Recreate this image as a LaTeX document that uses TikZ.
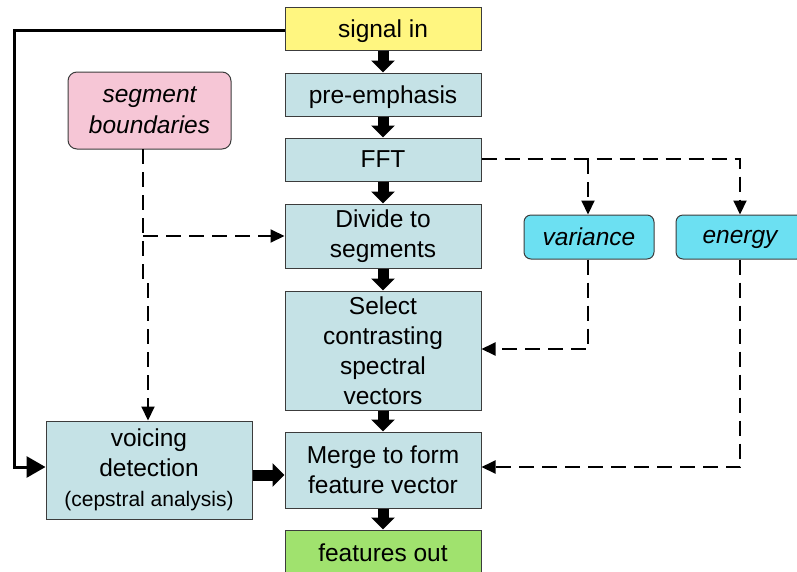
\documentclass[tikz,border=0pt]{standalone}
\usepackage{fontspec}
\setmainfont{Liberation Sans}
\usetikzlibrary{arrows.meta}
\definecolor{cyel}{RGB}{255,246,128}
\definecolor{cblu}{RGB}{197,226,230}
\definecolor{cpnk}{RGB}{246,198,214}
\definecolor{ccyn}{RGB}{108,224,242}
\definecolor{cgrn}{RGB}{160,226,110}
\definecolor{cbrd}{RGB}{60,60,60}
\tikzset{
  box/.style={draw=cbrd, line width=1pt, fill=cblu, inner sep=0pt, align=center,
    font=\fontsize{24.5}{30}\selectfont},
  rbox/.style={box, rounded corners=9pt},
  blockarrow/.style={line width=11pt, -{Triangle[width=23pt,length=12pt]}},
  dashline/.style={line width=2pt, dash pattern=on 15pt off 8pt, -{Triangle[width=13pt,length=14pt]}},
  dashplain/.style={line width=2pt, dash pattern=on 15pt off 8pt},
  sigline/.style={line width=3pt, -{Triangle[width=21pt,length=19pt]}}
}
\begin{document}
\begin{tikzpicture}[x=1pt,y=-1pt]
\useasboundingbox (0,0) rectangle (797,571);
\begin{scope}
\clip (0,0) rectangle (797,571);
\node[box, fill=cyel, minimum width=196pt, minimum height=43pt, text depth=0pt] (sig) at (383,28.5) {signal in};
\node[box, minimum width=196pt, minimum height=43pt, text depth=0pt] (pre) at (383,94.5) {pre-emphasis};
\node[box, minimum width=196pt, minimum height=43pt] (fft) at (383,159.5) {FFT};
\node[box, minimum width=196pt, minimum height=64pt] (div) at (383,236) {Divide to\\segments};
\node[box, minimum width=196pt, minimum height=119pt] (sel) at (383,350.5) {Select\\contrasting\\spectral\\vectors};
\node[box, minimum width=196pt, minimum height=76pt] (mrg) at (383,470) {Merge to form\\feature vector};
\node[box, fill=cgrn, minimum width=196pt, minimum height=52pt] (out) at (383,556) {};
\node[font=\fontsize{24.5}{30}\selectfont] (outt) at (383,553) {features out};
\node[box, minimum width=206pt, minimum height=98pt] (voi) at (149,470) {voicing\\detection\\{\fontsize{21}{25}\selectfont (cepstral analysis)}};
\node[rbox, fill=cpnk, minimum width=163pt, minimum height=77pt, font=\fontsize{24.5}{31}\selectfont\itshape] (seg) at (149.5,110.5) {segment\\boundaries};
\node[rbox, fill=ccyn, minimum width=130pt, minimum height=44pt, rounded corners=7pt, font=\fontsize{24.5}{30}\selectfont\itshape] (var) at (589,237) {variance};
\node[rbox, fill=ccyn, minimum width=128pt, minimum height=44pt, rounded corners=7pt, text depth=0pt, font=\fontsize{24.5}{30}\selectfont\itshape] (ene) at (740,237) {energy};
\end{scope}

% block arrows
\draw[blockarrow] (sig.south) -- (pre.north);
\draw[blockarrow] (pre.south) -- (fft.north);
\draw[blockarrow] (fft.south) -- (div.north);
\draw[blockarrow] (div.south) -- (sel.north);
\draw[blockarrow] (sel.south) -- (mrg.north);
\draw[blockarrow] (mrg.south) -- (out.north);
\draw[blockarrow] (voi.east |- 0,475) -- (mrg.west |- 0,475);

% signal line
\coordinate (c1) at (14,30);
\coordinate (c2) at (14,467);
\draw[sigline] (sig.west |- c1) -- (c1) -- (c2) -- (voi.west |- c2);

% dashed from FFT
\coordinate (f1) at (740,159);
\coordinate (f2) at (588,159);
\draw[dashline] (fft.east |- f1) -- (f1) -- (ene.north);
\draw[dashline] (f2) -- (var.north -| f2);
\coordinate (v1) at (588,349);
\draw[dashline] (var.south -| v1) -- (v1) -- (sel.east |- v1);
\coordinate (e1) at (740,467);
\draw[dashline] (ene.south) -- (e1) -- (mrg.east |- e1);

% dashed from segment boundaries
\coordinate (s0) at (143,149);
\coordinate (s1) at (143,236);
\coordinate (s2) at (143,283);
\coordinate (s3) at (148,283);
\draw[dashline] (s1) -- (div.west |- s1);
\draw[dashplain] (s0) -- (s2);
\draw[dashline] (s3) -- (s3 |- voi.north);
\end{tikzpicture}
\end{document}
